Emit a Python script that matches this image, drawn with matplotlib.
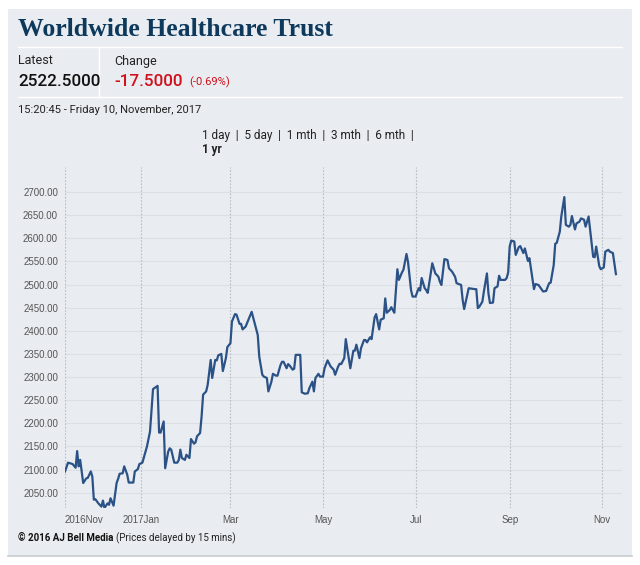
import numpy as np
import matplotlib
matplotlib.use("Agg")
import matplotlib.pyplot as plt
import matplotlib.dates as mdates
from matplotlib.lines import Line2D
from matplotlib.patches import Rectangle

# price trace, day offsets counted from 1 Jan 2017
days = [-50, -48, -45, -43, -42, -41, -40, -38, -36, -35, -33, -32, -31, -30, -28, -26, -25, -24, -22, -21,
        -20, -18, -16, -15, -14, -12, -11, -9, -8, -5, -4, -2, -1, 1, 4, 6, 8, 11, 12, 13,
        15, 16, 18, 19, 20, 22, 24, 25, 26, 27, 29, 30, 32, 33, 35, 36, 37, 39, 40, 41,
        43, 44, 46, 47, 49, 50, 51, 53, 54, 56, 57, 59, 60, 62, 63, 65, 66, 67, 69, 73,
        75, 77, 78, 80, 81, 83, 84, 86, 87, 89, 90, 92, 93, 94, 96, 97, 98, 100, 101, 102,
        105, 106, 108, 110, 111, 113, 114, 115, 117, 118, 120, 121, 123, 125, 127, 128, 130, 131, 132, 134,
        135, 137, 138, 140, 141, 142, 144, 145, 147, 148, 149, 151, 152, 154, 155, 157, 158, 160, 161, 162,
        164, 165, 167, 169, 170, 172, 173, 175, 176, 178, 179, 181, 183, 184, 185, 187, 188, 189, 192, 194,
        196, 197, 198, 200, 202, 203, 205, 207, 208, 211, 212, 213, 216, 220, 221, 222, 223, 225, 226, 228,
        229, 230, 232, 233, 235, 236, 237, 240, 241, 242, 243, 244, 246, 247, 249, 250, 252, 253, 255, 256,
        257, 259, 260, 262, 265, 267, 269, 270, 272, 273, 274, 276, 277, 279, 280, 282, 283, 284, 286, 287,
        289, 290, 292, 293, 295, 296, 298, 299, 300, 302, 303, 305, 306, 308, 309, 311, 313]
prices = [2096, 2115, 2112, 2104, 2140, 2107, 2121, 2071, 2081, 2082, 2096, 2085, 2035, 2036, 2027, 2020, 2033, 2017, 2027, 2024,
          2038, 2022, 2071, 2080, 2091, 2092, 2107, 2089, 2072, 2072, 2096, 2101, 2112, 2115, 2150, 2182, 2274, 2281, 2180, 2180,
          2204, 2103, 2139, 2146, 2143, 2115, 2115, 2121, 2143, 2125, 2121, 2132, 2125, 2166, 2156, 2159, 2172, 2179, 2215, 2262,
          2269, 2283, 2337, 2298, 2337, 2336, 2347, 2350, 2313, 2341, 2365, 2373, 2420, 2436, 2435, 2415, 2415, 2403, 2409, 2441,
          2416, 2391, 2344, 2305, 2301, 2298, 2269, 2290, 2307, 2303, 2303, 2326, 2333, 2333, 2319, 2328, 2325, 2316, 2318, 2348,
          2348, 2267, 2264, 2265, 2276, 2290, 2269, 2298, 2307, 2301, 2301, 2319, 2336, 2323, 2316, 2305, 2323, 2329, 2328, 2341,
          2382, 2341, 2319, 2357, 2357, 2370, 2341, 2362, 2380, 2380, 2375, 2386, 2382, 2429, 2436, 2403, 2424, 2427, 2470, 2439,
          2445, 2451, 2439, 2533, 2510, 2526, 2532, 2566, 2549, 2488, 2474, 2474, 2492, 2487, 2514, 2492, 2488, 2482, 2546, 2524,
          2517, 2506, 2499, 2555, 2553, 2535, 2528, 2517, 2503, 2499, 2467, 2447, 2492, 2490, 2490, 2449, 2452, 2463, 2485, 2524,
          2481, 2460, 2461, 2492, 2496, 2519, 2510, 2510, 2514, 2526, 2582, 2595, 2593, 2564, 2581, 2583, 2568, 2578, 2551, 2557,
          2535, 2490, 2501, 2499, 2485, 2486, 2503, 2504, 2542, 2588, 2590, 2614, 2647, 2689, 2629, 2625, 2629, 2648, 2619, 2632,
          2636, 2643, 2640, 2625, 2647, 2618, 2560, 2559, 2582, 2540, 2533, 2537, 2571, 2575, 2571, 2568, 2522.5]

yticks = [2050, 2100, 2150, 2200, 2250, 2300, 2350, 2400, 2450, 2500, 2550, 2600, 2650, 2700]
month_ticks = ["2017-01-01", "2017-03-01", "2017-05-01", "2017-07-01", "2017-09-01", "2017-11-01"]
xlabels = ["2016Nov", "2017Jan", "Mar", "May", "Jul", "Sep", "Nov"]

W, H = 640, 565
BG = "#e9ecf0"
NAVY = "#0d3a5c"
LINE = "#2b5287"
RED = "#d0101b"

def fx(x):
    return x / W

def fy(y):
    return 1 - y / H

dates = np.datetime64("2017-01-01") + np.array(days).astype("timedelta64[D]")

fig = plt.figure(figsize=(6.4, 5.65), dpi=100)
fig.patch.set_facecolor("white")
fig.patches.append(Rectangle((fx(8), fy(556)), fx(632) - fx(8), fy(9) - fy(556),
                             transform=fig.transFigure, facecolor=BG, edgecolor="none", zorder=-5))
fig.lines.append(Line2D([fx(8), fx(632)], [fy(556), fy(556)], transform=fig.transFigure, color="#c8cbd0", lw=1.2))

# header
fig.text(fx(18), fy(29), "Worldwide Healthcare Trust", family="Liberation Serif", weight="bold",
         fontsize=18.5, color=NAVY, va="center")
for y in (47, 97):
    fig.lines.append(Line2D([fx(18), fx(622)], [fy(y), fy(y)], transform=fig.transFigure, color="white", lw=1))
fig.lines.append(Line2D([fx(99), fx(99)], [fy(47), fy(97)], transform=fig.transFigure, color="white", lw=1))

fig.text(fx(18), fy(61), "Latest", family="Roboto", fontsize=9, color="#222222", va="center")
fig.text(fx(18), fy(81), "2522.5000", family="Roboto", weight="medium", fontsize=12.3, color="#111111", va="center")
fig.text(fx(114), fy(61), "Change", family="Roboto", fontsize=9, color="#222222", va="center")
fig.text(fx(114), fy(81), "-17.5000", family="Roboto", weight="medium", fontsize=12.3, color=RED, va="center")
fig.text(fx(189), fy(82), "(-0.69%)", family="Roboto", fontsize=8, color=RED, va="center")
fig.text(fx(18), fy(110), "15:20:45 - Friday 10, November, 2017", family="Roboto", fontsize=8,
         color="#222222", va="center")

fig.text(fx(202), fy(136), "1 day  |  5 day  |  1 mth  |  3 mth  |  6 mth  |", family="Roboto",
         fontsize=8.5, color="#222222", va="center")
fig.text(fx(202), fy(150), "1 yr", family="Roboto", weight="bold", fontsize=8.5, color="#222222", va="center")

# footer
t = fig.text(fx(18), fy(538), "\u00a9 2016 AJ Bell Media", family="Roboto", weight="bold", fontsize=7,
             color="#111111", va="center")
fig.canvas.draw()
bb = t.get_window_extent()
fig.text(bb.x1 / W + fx(3), fy(538), "(Prices delayed by 15 mins)", family="Roboto", fontsize=7,
         color="#222222", va="center")

# chart
ax = fig.add_axes([fx(65), fy(508), fx(622) - fx(65), fy(167) - fy(508)])
ax.set_facecolor("none")
ax.plot(dates, prices, color=LINE, lw=1.6, solid_joinstyle="round", zorder=3)

xt = [dates[0]] + [np.datetime64(d) for d in month_ticks]
ax.set_xticks(mdates.date2num(xt))
ax.set_xticklabels(xlabels)
ax.get_xticklabels()[0].set_ha("left")
ax.set_xlim(dates[0], np.datetime64("2017-11-14"))
ax.set_yticks(yticks)
ax.set_yticklabels([f"{v:.2f}" for v in yticks])
ax.set_ylim(2017, 2754)

for v in yticks:
    ax.axhline(v, color="#dcdfe3", lw=0.8, zorder=1)
for d in xt:
    ax.axvline(d, color="#b9bcc0", lw=0.8, ls=(0, (1.5, 1.5)), zorder=1)

for s in ax.spines.values():
    s.set_visible(False)
ax.tick_params(length=0, labelsize=7, labelcolor="#555555", pad=5)
for lab in ax.get_xticklabels() + ax.get_yticklabels():
    lab.set_family("Liberation Sans")

fig.savefig("out.png", dpi=100, facecolor=fig.get_facecolor())
